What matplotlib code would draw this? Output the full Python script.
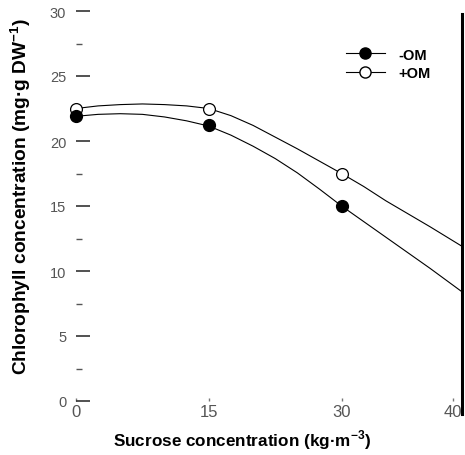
import matplotlib
matplotlib.use("Agg")
import matplotlib.pyplot as plt
from matplotlib.lines import Line2D
from matplotlib.ticker import MultipleLocator

# Measured points
sucrose = [0, 15, 30]
minus_om = [21.9, 21.2, 15.0]
plus_om = [22.5, 22.5, 17.5]

# Fitted curves
curve_x = [0, 2.5, 5, 7.5, 10, 12.5, 15, 17.5, 20, 22.5, 25, 27.5, 30,
           32.5, 35, 37.5, 40, 43.6]
minus_om_curve = [21.9, 22.05, 22.1, 22.05, 21.85, 21.55, 21.15, 20.45, 19.6,
                  18.65, 17.55, 16.3, 15.0, 13.8, 12.6, 11.4, 10.2, 8.4]
plus_om_curve = [22.5, 22.7, 22.8, 22.85, 22.8, 22.7, 22.5, 21.95, 21.2,
                 20.3, 19.4, 18.45, 17.5, 16.5, 15.4, 14.4, 13.4, 11.9]

x_ticks = [0, 15, 30, 42.6]
x_tick_labels = ["0", "15", "30", "40"]
y_ticks = [0, 5, 10, 15, 20, 25, 30]
series_labels = ["-OM", "+OM"]

plt.rcParams['font.family'] = ['Liberation Sans', 'DejaVu Sans']
plt.rcParams['mathtext.fontset'] = 'custom'
plt.rcParams['mathtext.rm'] = 'Liberation Sans'
plt.rcParams['mathtext.bf'] = 'Liberation Sans:bold'

fig = plt.figure(figsize=(4.65, 4.56), dpi=100)
ax = fig.add_axes([76/465, 1-402/456, (462-76)/465, (402-12)/456])

ax.plot(curve_x, minus_om_curve, color='black', lw=0.8, clip_on=False)
ax.plot(curve_x, plus_om_curve, color='black', lw=0.8, clip_on=False)
ax.plot(sucrose, minus_om, 'o', color='black', ms=8.5, clip_on=False, zorder=4)
ax.plot(sucrose, plus_om, 'o', mfc='white', mec='black', mew=0.9, ms=8.5,
        clip_on=False, zorder=3)

ax.set_xlim(0, 43.6)
ax.set_ylim(0, 30)
for s in ax.spines.values():
    s.set_visible(False)

ax.set_xticks(x_ticks)
ax.set_xticklabels(x_tick_labels)
ax.set_yticks(y_ticks)
ax.yaxis.set_minor_locator(MultipleLocator(2.5))
ax.tick_params(axis='y', which='major', direction='in', length=10, width=1.2,
               color='#333333', labelsize=10.5, labelcolor='#555555', pad=7)
ax.tick_params(axis='y', which='minor', direction='in', length=4, width=1.0,
               color='#555555')
ax.tick_params(axis='x', which='major', direction='in', length=2, width=1.0,
               color='#777777', labelsize=12, labelcolor='#555555', pad=2)

ax.set_xlabel("Sucrose concentration (kg\u00b7m$^{\\mathbf{-3}}$)", fontsize=12.3,
              fontweight='bold')
ax.xaxis.set_label_coords(0.43, -0.068)
ax.set_ylabel("Chlorophyll concentration (mg\u00b7g DW$^{\\mathbf{-1}}$)", fontsize=13.8,
              fontweight='bold')
ax.yaxis.set_label_coords(-0.112, 0.528)

handles = [
    Line2D([], [], color='black', lw=0.8, marker='o', ms=8, mfc='black', mec='black'),
    Line2D([], [], color='black', lw=0.8, marker='o', ms=8, mfc='white', mec='black'),
]
ax.legend(handles, series_labels, loc='upper right', bbox_to_anchor=(0.952, 0.94),
          frameon=False, handlelength=2.7,
          prop={'weight': 'bold', 'size': 10.5}, labelspacing=0.3, handletextpad=0.9)

fig.add_artist(Line2D([462/465, 462/465], [1-15/456, 1-415/456], color='black', lw=2.2))

fig.savefig("out.png", dpi=100, facecolor='white')
